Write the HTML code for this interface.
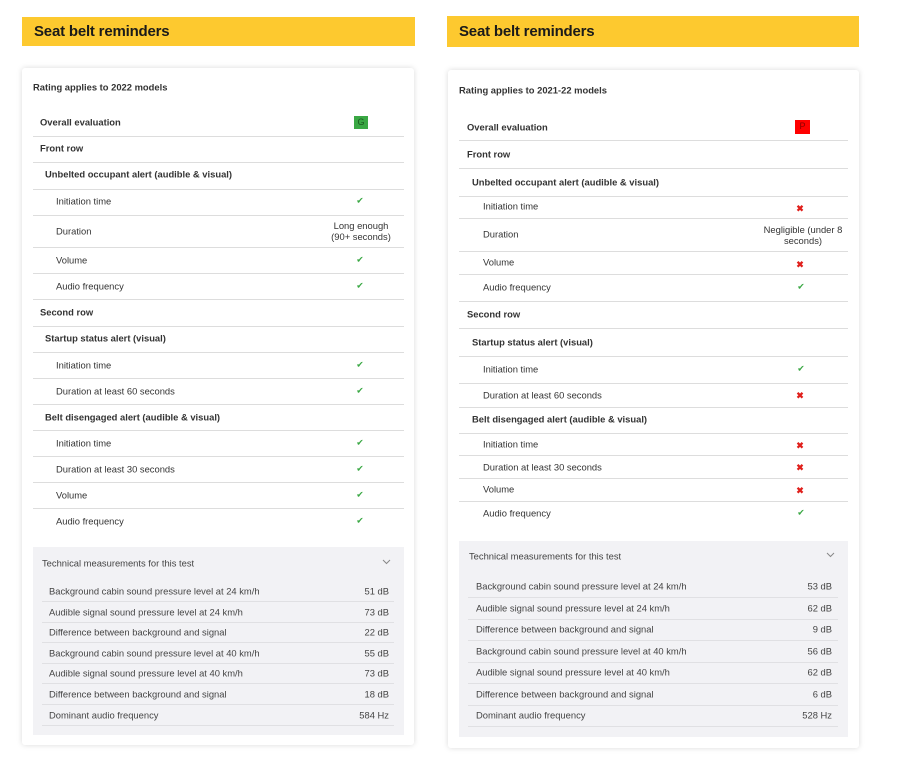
<!DOCTYPE html>
<html><head><meta charset="utf-8"><style>
*{margin:0;padding:0;box-sizing:border-box}
body{width:900px;height:759px;background:#fff;position:relative;overflow:hidden;font-family:"Liberation Sans",Arial,sans-serif;color:#333}
.ban{position:absolute;background:#fdc92f;font-weight:bold;font-size:15px;color:#1a1a1a;padding-left:12px;display:flex;align-items:center;letter-spacing:-0.2px}
.card{position:absolute;background:#fff;border-radius:3px;box-shadow:0 0 6px rgba(0,0,0,.15)}
.t{position:absolute;transform:translateY(-50%);font-size:9.4px;white-space:nowrap;line-height:11px}
.b{font-weight:bold;color:#333}
.v{text-align:center;width:90px;margin-left:-45px}
.ln{position:absolute;height:1px;background:#ddd}
.ok{color:#3aa844;font-size:9px}
.x{color:#e0201c;font-size:9px;font-weight:bold}
.tech{position:absolute;background:#f2f2f5}
.tl{position:absolute;height:1px;background:#e0e0e3}
.m{position:absolute;transform:translateY(-50%);font-size:9.4px;color:#444;white-space:nowrap}
.badge{position:absolute;width:14px;height:13px;font-size:9px;text-align:center;line-height:13px}
.chev{position:absolute}
</style></head><body>

<!-- LEFT -->
<div class="ban" style="left:22px;top:17px;width:393px;height:29px">Seat belt reminders</div>
<div class="card" style="left:22px;top:68px;width:392px;height:677px"></div>
<div class="t b" style="left:33px;top:87px">Rating applies to 2022 models</div>
<div class="t b" style="left:40px;top:122px">Overall evaluation</div>
<div class="badge" style="left:354px;top:116px;background:#3aa844;color:#1a5a20">G</div>
<div class="ln" style="left:33px;width:371px;top:136px"></div>
<div class="t b" style="left:40px;top:148px">Front row</div>
<div class="ln" style="left:33px;width:371px;top:162px"></div>
<div class="t b" style="left:45px;top:174px">Unbelted occupant alert (audible &amp; visual)</div>
<div class="ln" style="left:33px;width:371px;top:189px"></div>
<div class="t" style="left:56px;top:201px">Initiation time</div><div class="t v ok" style="left:360px;top:201px">✔</div>
<div class="ln" style="left:33px;width:371px;top:215px"></div>
<div class="t" style="left:56px;top:231px">Duration</div><div class="t v" style="left:361px;top:231px;width:66px;margin-left:-33px;white-space:normal">Long enough (90+ seconds)</div>
<div class="ln" style="left:33px;width:371px;top:247px"></div>
<div class="t" style="left:56px;top:260px">Volume</div><div class="t v ok" style="left:360px;top:260px">✔</div>
<div class="ln" style="left:33px;width:371px;top:273px"></div>
<div class="t" style="left:56px;top:286px">Audio frequency</div><div class="t v ok" style="left:360px;top:286px">✔</div>
<div class="ln" style="left:33px;width:371px;top:299px"></div>
<div class="t b" style="left:40px;top:312px">Second row</div>
<div class="ln" style="left:33px;width:371px;top:326px"></div>
<div class="t b" style="left:45px;top:338px">Startup status alert (visual)</div>
<div class="ln" style="left:33px;width:371px;top:352px"></div>
<div class="t" style="left:56px;top:365px">Initiation time</div><div class="t v ok" style="left:360px;top:365px">✔</div>
<div class="ln" style="left:33px;width:371px;top:378px"></div>
<div class="t" style="left:56px;top:391px">Duration at least 60 seconds</div><div class="t v ok" style="left:360px;top:391px">✔</div>
<div class="ln" style="left:33px;width:371px;top:404px"></div>
<div class="t b" style="left:45px;top:417px">Belt disengaged alert (audible &amp; visual)</div>
<div class="ln" style="left:33px;width:371px;top:430px"></div>
<div class="t" style="left:56px;top:443px">Initiation time</div><div class="t v ok" style="left:360px;top:443px">✔</div>
<div class="ln" style="left:33px;width:371px;top:456px"></div>
<div class="t" style="left:56px;top:469px">Duration at least 30 seconds</div><div class="t v ok" style="left:360px;top:469px">✔</div>
<div class="ln" style="left:33px;width:371px;top:482px"></div>
<div class="t" style="left:56px;top:495px">Volume</div><div class="t v ok" style="left:360px;top:495px">✔</div>
<div class="ln" style="left:33px;width:371px;top:508px"></div>
<div class="t" style="left:56px;top:521px">Audio frequency</div><div class="t v ok" style="left:360px;top:521px">✔</div>

<div class="tech" style="left:33px;top:547px;width:371px;height:188px"></div>
<div class="m" style="left:42px;top:563px">Technical measurements for this test</div>
<svg class="chev" style="left:382px;top:559px" width="9" height="6"><polyline points="1,1 4.5,4.5 8,1" fill="none" stroke="#888" stroke-width="1"/></svg>
<div class="m" style="left:49px;top:591px">Background cabin sound pressure level at 24 km/h</div><div class="m" style="right:511px;top:591px">51 dB</div>
<div class="tl" style="left:42px;width:352px;top:601px"></div>
<div class="m" style="left:49px;top:612px">Audible signal sound pressure level at 24 km/h</div><div class="m" style="right:511px;top:612px">73 dB</div>
<div class="tl" style="left:42px;width:352px;top:622px"></div>
<div class="m" style="left:49px;top:632px">Difference between background and signal</div><div class="m" style="right:511px;top:632px">22 dB</div>
<div class="tl" style="left:42px;width:352px;top:642px"></div>
<div class="m" style="left:49px;top:653px">Background cabin sound pressure level at 40 km/h</div><div class="m" style="right:511px;top:653px">55 dB</div>
<div class="tl" style="left:42px;width:352px;top:663px"></div>
<div class="m" style="left:49px;top:673px">Audible signal sound pressure level at 40 km/h</div><div class="m" style="right:511px;top:673px">73 dB</div>
<div class="tl" style="left:42px;width:352px;top:683px"></div>
<div class="m" style="left:49px;top:694px">Difference between background and signal</div><div class="m" style="right:511px;top:694px">18 dB</div>
<div class="tl" style="left:42px;width:352px;top:704px"></div>
<div class="m" style="left:49px;top:715px">Dominant audio frequency</div><div class="m" style="right:511px;top:715px">584 Hz</div>
<div class="tl" style="left:42px;width:352px;top:725px"></div>

<!-- RIGHT -->
<div class="ban" style="left:447px;top:16px;width:412px;height:31px">Seat belt reminders</div>
<div class="card" style="left:448px;top:70px;width:411px;height:678px"></div>
<div class="t b" style="left:459px;top:90px">Rating applies to 2021-22 models</div>
<div class="t b" style="left:467px;top:127px">Overall evaluation</div>
<div class="badge" style="left:795px;top:120px;width:15px;height:14px;background:#f00;color:#8a0000">P</div>
<div class="ln" style="left:459px;width:389px;top:140px"></div>
<div class="t b" style="left:467px;top:154px">Front row</div>
<div class="ln" style="left:459px;width:389px;top:168px"></div>
<div class="t b" style="left:472px;top:182px">Unbelted occupant alert (audible &amp; visual)</div>
<div class="ln" style="left:459px;width:389px;top:196px"></div>
<div class="t" style="left:483px;top:206px">Initiation time</div><div class="t v x" style="left:800px;top:209px">✖</div>
<div class="ln" style="left:459px;width:389px;top:218px"></div>
<div class="t" style="left:483px;top:234px">Duration</div><div class="t v" style="left:803px;top:235px;width:80px;margin-left:-40px;white-space:normal">Negligible (under 8 seconds)</div>
<div class="ln" style="left:459px;width:389px;top:251px"></div>
<div class="t" style="left:483px;top:262px">Volume</div><div class="t v x" style="left:800px;top:265px">✖</div>
<div class="ln" style="left:459px;width:389px;top:274px"></div>
<div class="t" style="left:483px;top:287px">Audio frequency</div><div class="t v ok" style="left:801px;top:287px">✔</div>
<div class="ln" style="left:459px;width:389px;top:301px"></div>
<div class="t b" style="left:467px;top:314px">Second row</div>
<div class="ln" style="left:459px;width:389px;top:328px"></div>
<div class="t b" style="left:472px;top:342px">Startup status alert (visual)</div>
<div class="ln" style="left:459px;width:389px;top:356px"></div>
<div class="t" style="left:483px;top:369px">Initiation time</div><div class="t v ok" style="left:801px;top:369px">✔</div>
<div class="ln" style="left:459px;width:389px;top:383px"></div>
<div class="t" style="left:483px;top:395px">Duration at least 60 seconds</div><div class="t v x" style="left:800px;top:396px">✖</div>
<div class="ln" style="left:459px;width:389px;top:407px"></div>
<div class="t b" style="left:472px;top:419px">Belt disengaged alert (audible &amp; visual)</div>
<div class="ln" style="left:459px;width:389px;top:433px"></div>
<div class="t" style="left:483px;top:444px">Initiation time</div><div class="t v x" style="left:800px;top:446px">✖</div>
<div class="ln" style="left:459px;width:389px;top:455px"></div>
<div class="t" style="left:483px;top:467px">Duration at least 30 seconds</div><div class="t v x" style="left:800px;top:468px">✖</div>
<div class="ln" style="left:459px;width:389px;top:478px"></div>
<div class="t" style="left:483px;top:489px">Volume</div><div class="t v x" style="left:800px;top:491px">✖</div>
<div class="ln" style="left:459px;width:389px;top:501px"></div>
<div class="t" style="left:483px;top:513px">Audio frequency</div><div class="t v ok" style="left:801px;top:513px">✔</div>

<div class="tech" style="left:459px;top:541px;width:389px;height:196px"></div>
<div class="m" style="left:469px;top:556px">Technical measurements for this test</div>
<svg class="chev" style="left:826px;top:552px" width="9" height="6"><polyline points="1,1 4.5,4.5 8,1" fill="none" stroke="#888" stroke-width="1"/></svg>
<div class="m" style="left:476px;top:586px">Background cabin sound pressure level at 24 km/h</div><div class="m" style="right:68px;top:586px">53 dB</div>
<div class="tl" style="left:468px;width:370px;top:597px"></div>
<div class="m" style="left:476px;top:608px">Audible signal sound pressure level at 24 km/h</div><div class="m" style="right:68px;top:608px">62 dB</div>
<div class="tl" style="left:468px;width:370px;top:619px"></div>
<div class="m" style="left:476px;top:629px">Difference between background and signal</div><div class="m" style="right:68px;top:629px">9 dB</div>
<div class="tl" style="left:468px;width:370px;top:640px"></div>
<div class="m" style="left:476px;top:651px">Background cabin sound pressure level at 40 km/h</div><div class="m" style="right:68px;top:651px">56 dB</div>
<div class="tl" style="left:468px;width:370px;top:662px"></div>
<div class="m" style="left:476px;top:672px">Audible signal sound pressure level at 40 km/h</div><div class="m" style="right:68px;top:672px">62 dB</div>
<div class="tl" style="left:468px;width:370px;top:683px"></div>
<div class="m" style="left:476px;top:694px">Difference between background and signal</div><div class="m" style="right:68px;top:694px">6 dB</div>
<div class="tl" style="left:468px;width:370px;top:705px"></div>
<div class="m" style="left:476px;top:715px">Dominant audio frequency</div><div class="m" style="right:68px;top:715px">528 Hz</div>
<div class="tl" style="left:468px;width:370px;top:726px"></div>
</body></html>
